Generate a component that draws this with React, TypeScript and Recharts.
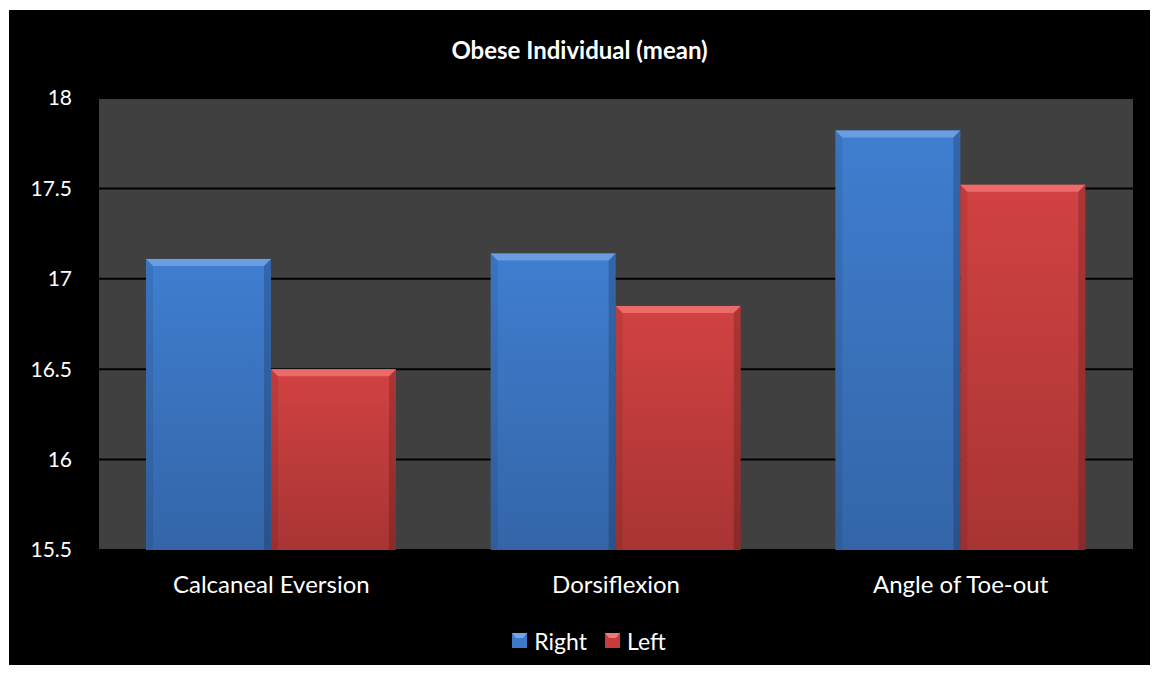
import React from "react";
import { BarChart, Bar, XAxis, YAxis, CartesianGrid, Legend } from "recharts";

/* ── Data ───────────────────────────────────────────────────────── */
const categories = ["Calcaneal Eversion", "Dorsiflexion", "Angle of Toe-out"];
const rightValues = [17.11, 17.14, 17.82];
const leftValues = [16.5, 16.85, 17.52];
const yTicks = [15.5, 16, 16.5, 17, 17.5, 18];

const data = categories.map((name, i) => ({ name, Right: rightValues[i], Left: leftValues[i] }));

const FONT = "Lato, 'Open Sans', sans-serif";

/* bevelled bar, Excel style */
function BevelBar(props: any) {
  const { x, y, width, height, fill, light } = props;
  if (!height || height <= 0) return null;
  const b = 7;
  return (
    <g>
      <rect x={x} y={y} width={width} height={height} fill={fill} />
      <polygon points={`${x},${y} ${x + width},${y} ${x + width - b},${y + b} ${x + b},${y + b}`} fill={light} />
      <polygon points={`${x},${y} ${x + b},${y + b} ${x + b},${y + height} ${x},${y + height}`} fill="rgba(0,0,0,0.08)" />
      <polygon points={`${x + width},${y} ${x + width - b},${y + b} ${x + width - b},${y + height} ${x + width},${y + height}`} fill="rgba(0,0,0,0.18)" />
    </g>
  );
}

function LegendBox() {
  const item = (label: string, c: string, l: string) => (
    <span style={{ display: "inline-flex", alignItems: "center", marginRight: 18 }}>
      <svg width={15} height={15} style={{ marginRight: 7 }}>
        <rect x={0} y={0} width={15} height={15} fill={c} />
        <polygon points="0,0 15,0 11,5 4,5" fill={l} />
      </svg>
      {label}
    </span>
  );
  return (
    <div style={{
      position: "relative", top: 15, left: 9, color: "#fff", fontFamily: FONT, fontSize: 23,
      textAlign: "center", width: "100%", marginLeft: 18, lineHeight: "28px",
    }}>
      {item("Right", "#3D79C9", "#74A6E6")}
      {item("Left", "#C93B3B", "#EE7A7A")}
    </div>
  );
}

export default function App() {
  return (
    <div style={{ position: "absolute", left: 9, top: 10, width: 1141, height: 655, background: "#000" }}>
      <div style={{
        position: "absolute", top: 25, width: "100%", textAlign: "center",
        color: "#fff", fontFamily: FONT, fontWeight: 700, fontSize: 24,
      }}>
        Obese Individual (mean)
      </div>
      <BarChart width={1141} height={655} data={data} barGap={0} barCategoryGap={47}
        margin={{ top: 88, right: 17, bottom: 0, left: 0 }}>
        <defs>
          <linearGradient id="gBlue" x1="0" y1="0" x2="0" y2="1">
            <stop offset="0%" stopColor="#3F7ED0" />
            <stop offset="100%" stopColor="#3465A8" />
          </linearGradient>
          <linearGradient id="gRed" x1="0" y1="0" x2="0" y2="1">
            <stop offset="0%" stopColor="#D24242" />
            <stop offset="100%" stopColor="#A83434" />
          </linearGradient>
        </defs>
        <CartesianGrid vertical={false} stroke="#000" strokeWidth={2} fill="#404040" />
        <XAxis dataKey="name" axisLine={false} tickLine={false} tickSize={0} tickMargin={26} height={60}
          tick={{ fill: "#fff", fontSize: 24, fontFamily: FONT }} />
        <YAxis domain={[15.5, 18]} ticks={yTicks} width={90} axisLine={false} tickLine={false}
          tickSize={0} tickMargin={27} tick={{ fill: "#fff", fontSize: 21, fontFamily: FONT }} />
        <Legend verticalAlign="bottom" height={55} content={() => <LegendBox />} />
        <Bar dataKey="Right" fill="url(#gBlue)" isAnimationActive={false}
          shape={(p: any) => <BevelBar {...p} fill="url(#gBlue)" light="#6A9EE0" />} />
        <Bar dataKey="Left" fill="url(#gRed)" isAnimationActive={false}
          shape={(p: any) => <BevelBar {...p} fill="url(#gRed)" light="#EC6A6A" />} />
      </BarChart>
    </div>
  );
}
